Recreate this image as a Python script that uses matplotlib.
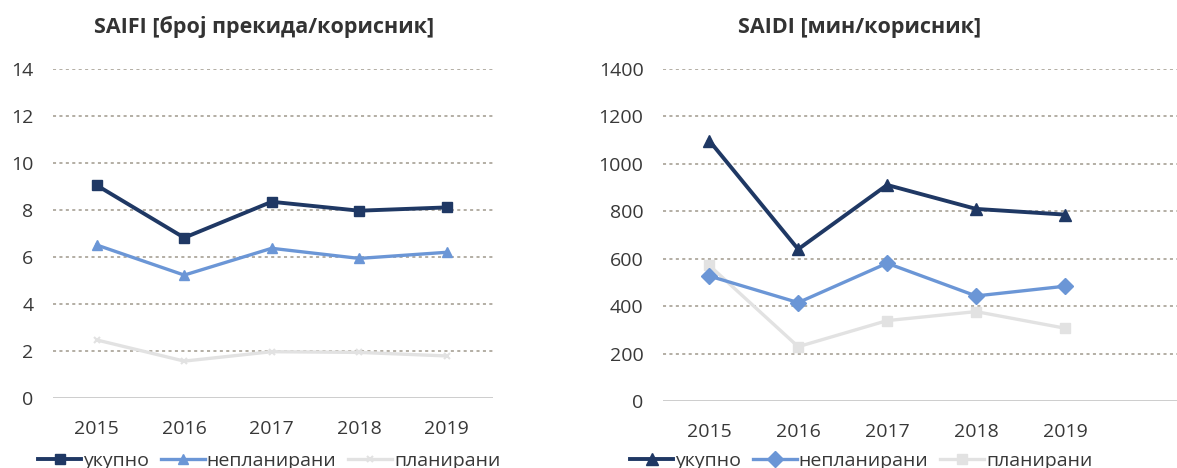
import matplotlib
matplotlib.use("Agg")
import matplotlib.pyplot as plt
from matplotlib.lines import Line2D

years = ["2015", "2016", "2017", "2018", "2019"]
series_names = ["укупно", "непланирани", "планирани"]

saifi_ukupno = [9.05, 6.82, 8.35, 7.97, 8.11]
saifi_neplanirani = [6.51, 5.23, 6.37, 5.94, 6.20]
saifi_planirani = [2.47, 1.57, 1.97, 1.94, 1.79]

saidi_ukupno = [1098, 640, 911, 810, 786]
saidi_neplanirani = [527, 415, 581, 443, 484]
saidi_planirani = [572, 229, 339, 377, 307]

saifi_title = "SAIFI [број прекида/корисник]"
saidi_title = "SAIDI [мин/корисник]"

plt.rcParams['font.family'] = ['Open Sans', 'DejaVu Sans']

c_uk = "#1f3864"
c_ne = "#6b96d6"
c_pl = "#e2e2e2"
grid_c = "#9f988c"
txt_c = "#383838"

fig = plt.figure(figsize=(11.77, 4.68), dpi=100)

W, H = 1177, 468
ax1 = fig.add_axes([53 / W, (H - 398) / H, 440 / W, 329 / H])
ax2 = fig.add_axes([663 / W, (H - 401) / H, 514 / W, 332 / H])

x = list(range(len(years)))


def style(ax, ymax, step, xlim):
    ax.set_ylim(0, ymax)
    ax.set_xlim(*xlim)
    ax.set_yticks(range(0, ymax + 1, step))
    ax.set_xticks(x)
    ax.set_xticklabels(years)
    for s in ax.spines.values():
        s.set_visible(False)
    ax.tick_params(length=0, labelsize=14, colors=txt_c, pad=14)
    ax.tick_params(axis='x', pad=16)
    for yv in range(step, ymax + 1, step):
        ax.axhline(yv, color=grid_c, lw=1.1, ls=(0, (2, 2.2)), zorder=0)
    ax.axhline(0, color="#c9c9c9", lw=1.3, zorder=0)


# SAIFI
ax1.plot(x, saifi_planirani, color=c_pl, lw=2.4, marker="x", ms=4, mew=1.5, zorder=2)
ax1.plot(x, saifi_neplanirani, color=c_ne, lw=2.4, marker="^", ms=7, zorder=3)
ax1.plot(x, saifi_ukupno, color=c_uk, lw=2.8, marker="s", ms=7.5, zorder=4)
style(ax1, 14, 2, (-0.5, 4.53))

# SAIDI
ax2.plot(x, saidi_planirani, color=c_pl, lw=2.4, marker="s", ms=7, zorder=2)
ax2.plot(x, saidi_neplanirani, color=c_ne, lw=2.4, marker="D", ms=8, zorder=3)
ax2.plot(x, saidi_ukupno, color=c_uk, lw=2.8, marker="^", ms=8, zorder=4)
style(ax2, 1400, 200, (-0.52, 5.26))

fig.text(264 / W, 1 - 27 / H, saifi_title, ha="center", va="center",
         fontsize=15.5, fontweight="bold", color="#333333")
fig.text(860 / W, 1 - 27 / H, saidi_title, ha="center", va="center",
         fontsize=15.5, fontweight="bold", color="#333333")

h1 = [Line2D([], [], color=c_uk, lw=2.8, marker="s", ms=7.5),
      Line2D([], [], color=c_ne, lw=2.4, marker="^", ms=7),
      Line2D([], [], color=c_pl, lw=2.4, marker="x", ms=4, mew=1.5)]
h2 = [Line2D([], [], color=c_uk, lw=2.8, marker="^", ms=8),
      Line2D([], [], color=c_ne, lw=2.4, marker="D", ms=8),
      Line2D([], [], color=c_pl, lw=2.4, marker="s", ms=7)]

for handles, cx in ((h1, 269), (h2, 861)):
    leg = fig.legend(handles, series_names, loc="center", ncol=3,
                     bbox_to_anchor=(cx / W, 7 / H), frameon=False,
                     fontsize=14, handlelength=2.25, handletextpad=0.1,
                     columnspacing=0.6, borderpad=0, borderaxespad=0)
    for t in leg.get_texts():
        t.set_color(txt_c)

fig.savefig("out.png", dpi=100, facecolor="white")
